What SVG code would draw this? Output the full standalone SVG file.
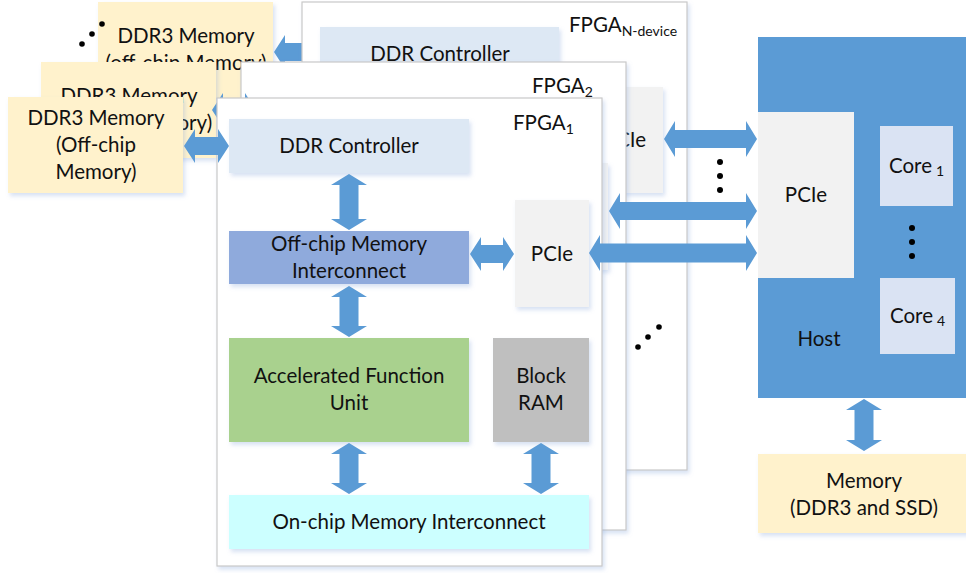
<svg xmlns="http://www.w3.org/2000/svg" width="966" height="573" viewBox="0 0 966 573">
<defs>
<filter id="sh" x="-10%" y="-10%" width="130%" height="130%">
<feDropShadow dx="2" dy="3" stdDeviation="2" flood-color="#8faadc" flood-opacity="0.35"/>
</filter>
</defs>
<style>
text{font-family:Lato,"Open Sans","Liberation Sans",sans-serif;font-size:20.5px;fill:#111;text-anchor:middle}
.panel{fill:#fff;stroke:#c9c9c9;stroke-width:1.2;filter:url(#sh)}
.mem{fill:#fff2cc;filter:url(#sh)}
.ddr{fill:#dde8f4;filter:url(#sh)}
.pcie{fill:#f2f2f2;filter:url(#sh)}
.arr{fill:#5b9bd5}
.dot{fill:#000}
.lbl{text-anchor:start}
.sub{font-size:14px}
</style>

<!-- Back DDR3 memory (N-device) -->
<g id="mem3">
<rect class="mem" x="98" y="2" width="175" height="96"/>
<text x="186" y="43">DDR3 Memory</text>
<text x="186" y="70">(off-chip Memory)</text>
</g>
<g id="dots-top-left">
<circle class="dot" cx="82" cy="44" r="2.8"/>
<circle class="dot" cx="92" cy="34" r="2.8"/>
<circle class="dot" cx="102" cy="24" r="2.8"/>
</g>
<g id="conn-mem3" class="connectors">
<path class="arr" d="M274,52 L285,35 L285,43 L309,43 L309,35 L320,52 L309,69 L309,61 L285,61 L285,69 Z"/>
</g>

<!-- FPGA N-device -->
<g id="fpgaN">
<rect class="panel" x="302" y="2" width="385" height="468"/>
<text class="lbl" x="569" y="32">FPGA<tspan class="sub" dy="4">N-device</tspan></text>
<rect class="ddr" x="320" y="27" width="239" height="54"/>
<text x="440" y="61">DDR Controller</text>
<rect class="pcie" x="583" y="87" width="80" height="106"/>
<text x="625" y="147">PCIe</text>
</g>

<!-- DDR3 memory 2 -->
<g id="mem2">
<rect class="mem" x="41" y="62" width="175" height="96"/>
<text x="129" y="103">DDR3 Memory</text>
<text x="129" y="130">(Off-chip Memory)</text>
</g>

<!-- FPGA 2 -->
<g id="fpga2">
<rect class="panel" x="241" y="62" width="385" height="468"/>
<text class="lbl" x="532" y="93">FPGA<tspan class="sub" dy="4">2</tspan></text>
<rect class="pcie" x="533" y="163" width="75" height="107"/>
</g>
<g id="conn-mem2" class="connectors">
<path class="arr" d="M212,110 L223,93 L223,101 L245,101 L245,93 L256,110 L245,127 L245,119 L223,119 L223,127 Z"/>
</g>

<!-- DDR3 memory 1 -->
<g id="mem1">
<rect class="mem" x="8" y="97" width="175" height="96"/>
<text x="96" y="125">DDR3 Memory</text>
<text x="96" y="152">(Off-chip</text>
<text x="96" y="179">Memory)</text>
</g>

<!-- FPGA 1 -->
<g id="fpga1">
<rect class="panel" x="217" y="98" width="385" height="468"/>
<text class="lbl" x="513" y="130">FPGA<tspan class="sub" dy="4">1</tspan></text>
</g>
<g id="ddrctrl1">
<rect class="ddr" x="229" y="119" width="240" height="54"/>
<text x="349" y="153">DDR Controller</text>
</g>
<g id="offchip1">
<rect fill="#8faadc" filter="url(#sh)" x="229" y="231" width="240" height="53"/>
<text x="349" y="251">Off-chip Memory</text>
<text x="349" y="278">Interconnect</text>
</g>
<g id="pcie1">
<rect class="pcie" x="515" y="200" width="74" height="107"/>
<text x="552" y="261">PCIe</text>
</g>
<g id="afu1">
<rect fill="#a9d18e" filter="url(#sh)" x="229" y="338" width="240" height="104"/>
<text x="349" y="383">Accelerated Function</text>
<text x="349" y="410">Unit</text>
</g>
<g id="bram1">
<rect fill="#bfbfbf" filter="url(#sh)" x="493" y="338" width="96" height="104"/>
<text x="541" y="383">Block</text>
<text x="541" y="410">RAM</text>
</g>
<g id="onchip1">
<rect fill="#ccffff" filter="url(#sh)" x="229" y="495" width="360" height="54"/>
<text x="409" y="529">On-chip Memory Interconnect</text>
</g>

<!-- Host -->
<g id="host">
<rect fill="#5b9bd5" x="758" y="37" width="208" height="361"/>
<text x="819" y="346">Host</text>
</g>
<g id="host-pcie">
<rect fill="#f2f2f2" x="758" y="112" width="96" height="166"/>
<text x="806" y="202">PCIe</text>
</g>
<g id="core1">
<rect fill="#dae3f3" x="880" y="126" width="73" height="80"/>
<text class="lbl" x="889" y="173">Core<tspan class="sub" dx="4" dy="3">1</tspan></text>
</g>
<g id="core4">
<rect fill="#dae3f3" x="880" y="278" width="75" height="76"/>
<text class="lbl" x="890" y="323">Core<tspan class="sub" dx="4" dy="3">4</tspan></text>
</g>
<g id="dots-cores">
<circle class="dot" cx="912" cy="228" r="3"/>
<circle class="dot" cx="912" cy="242" r="3"/>
<circle class="dot" cx="912" cy="256" r="3"/>
</g>
<g id="dots-links">
<circle class="dot" cx="720" cy="162" r="3"/>
<circle class="dot" cx="720" cy="176" r="3"/>
<circle class="dot" cx="720" cy="190" r="3"/>
</g>
<g id="dots-fpga">
<circle class="dot" cx="638" cy="347" r="2.8"/>
<circle class="dot" cx="648" cy="337" r="2.8"/>
<circle class="dot" cx="659" cy="327" r="2.8"/>
</g>

<!-- Memory host -->
<g id="hostmem">
<rect class="mem" x="758" y="454" width="210" height="79"/>
<text x="864" y="488">Memory</text>
<text x="864" y="515">(DDR3 and SSD)</text>
</g>

<!-- Connectors -->
<g id="connectors">
<path class="arr" d="M184,146 L195,129 L195,137 L218,137 L218,129 L229,146 L218,163 L218,155 L195,155 L195,163 Z"/>
<path class="arr" d="M349,174 L367,185 L358.5,185 L358.5,219 L367,219 L349,230 L331,219 L339.5,219 L339.5,185 L331,185 Z"/>
<path class="arr" d="M349,286 L367,297 L358.5,297 L358.5,326 L367,326 L349,337 L331,326 L339.5,326 L339.5,297 L331,297 Z"/>
<path class="arr" d="M349,443 L367,454 L358.5,454 L358.5,483 L367,483 L349,494 L331,483 L339.5,483 L339.5,454 L331,454 Z"/>
<path class="arr" d="M541,443 L559,454 L550.5,454 L550.5,483 L559,483 L541,494 L523,483 L531.5,483 L531.5,454 L523,454 Z"/>
<path class="arr" d="M470,254 L481,237 L481,245 L503,245 L503,237 L514,254 L503,271 L503,263 L481,263 L481,271 Z"/>
<path class="arr" d="M589,253 L600,235 L600,243.5 L746,243.5 L746,235 L757,253 L746,271 L746,262.5 L600,262.5 L600,271 Z"/>
<path class="arr" d="M609,211 L620,193 L620,202 L746,202 L746,193 L757,211 L746,229 L746,220 L620,220 L620,229 Z"/>
<path class="arr" d="M664,139 L675,121 L675,130 L746,130 L746,121 L757,139 L746,157 L746,148 L675,148 L675,157 Z"/>
<path class="arr" d="M864,399 L882,410 L873.5,410 L873.5,440 L882,440 L864,451 L846,440 L854.5,440 L854.5,410 L846,410 Z"/>
</g>
</svg>
